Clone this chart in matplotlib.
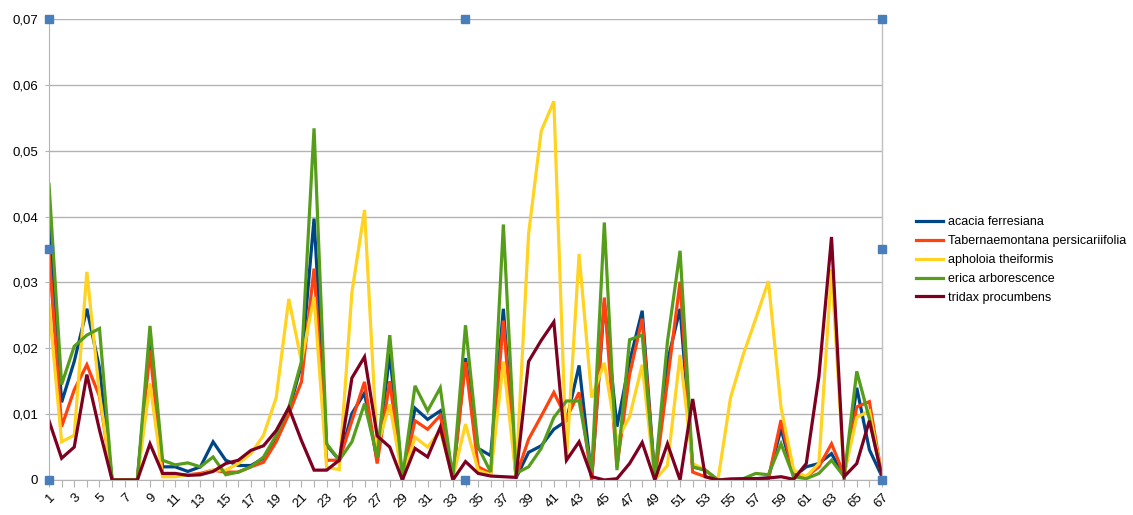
import matplotlib.pyplot as plt
from matplotlib.ticker import FuncFormatter

# x categories 1..67
categories = list(range(1, 68))

acacia = [0.040, 0.0118, 0.018, 0.026, 0.017, 0, 0, 0, 0.021, 0.002,
          0.002, 0.0013, 0.002, 0.0058, 0.003, 0.0022, 0.0022, 0.0033, 0.006, 0.0105,
          0.0175, 0.0397, 0.0053, 0.003, 0.0101, 0.0132, 0.003, 0.0192, 0.0, 0.0109,
          0.0092, 0.0105, 0.0003, 0.0185, 0.0048, 0.0037, 0.026, 0.0003, 0.0042, 0.0052,
          0.0077, 0.009, 0.0174, 0.0003, 0.027, 0.0081, 0.018, 0.0257, 0.0003, 0.018,
          0.026, 0.002, 0.0015, 0, 0, 0, 0.0002, 0.0003, 0.0078, 0.0005,
          0.002, 0.0025, 0.004, 0.0005, 0.014, 0.0046, 0.0005]

tabernaemontana = [0.0344, 0.0081, 0.0137, 0.0175, 0.0127, 0, 0, 0, 0.0197, 0.0008,
                   0.0008, 0.0008, 0.001, 0.0015, 0.0012, 0.0012, 0.002, 0.0027, 0.0058, 0.010,
                   0.0149, 0.0321, 0.003, 0.003, 0.009, 0.0149, 0.0025, 0.015, 0.0003, 0.009,
                   0.0077, 0.0098, 0.0003, 0.0179, 0.002, 0.001, 0.0242, 0.0005, 0.0062, 0.0097,
                   0.0133, 0.0094, 0.0133, 0.0, 0.0277, 0.002, 0.016, 0.0245, 0.0, 0.015,
                   0.0301, 0.0012, 0.0005, 0, 0, 0, 0, 0.0002, 0.0091, 0.0005,
                   0.0005, 0.002, 0.0055, 0.0008, 0.0111, 0.0119, 0.0005]

apholoia = [0.0266, 0.0058, 0.0068, 0.0316, 0.013, 0, 0, 0, 0.0147, 0.0005,
            0.0005, 0.0008, 0.0008, 0.0015, 0.0015, 0.0025, 0.004, 0.0068, 0.0125, 0.0275,
            0.018, 0.0278, 0.0019, 0.0016, 0.0285, 0.041, 0.005, 0.0115, 0.0003, 0.0065,
            0.005, 0.0075, 0.0003, 0.0085, 0.0015, 0.0008, 0.018, 0.0005, 0.0374, 0.053,
            0.0575, 0.003, 0.0343, 0.0125, 0.0178, 0.006, 0.0096, 0.0175, 0.0, 0.0022,
            0.019, 0.0025, 0.0015, 0, 0.0125, 0.019, 0.0245, 0.0302, 0.011, 0.0015,
            0.0005, 0.0025, 0.032, 0.0008, 0.0095, 0.0105, 0.0005]

erica = [0.0449, 0.0145, 0.0203, 0.022, 0.023, 0, 0, 0, 0.0234, 0.003,
         0.0023, 0.0026, 0.002, 0.0035, 0.0008, 0.0012, 0.002, 0.0035, 0.0068, 0.011,
         0.018, 0.0534, 0.0055, 0.003, 0.0058, 0.0116, 0.0035, 0.022, 0.0003, 0.0143,
         0.0105, 0.014, 0.0003, 0.0235, 0.005, 0.0012, 0.0388, 0.001, 0.002, 0.0048,
         0.0095, 0.012, 0.012, 0.0013, 0.0391, 0.0015, 0.0213, 0.022, 0.0005, 0.021,
         0.0348, 0.002, 0.0015, 0, 0.0002, 0.0002, 0.001, 0.0008, 0.0055, 0.0005,
         0.0002, 0.001, 0.003, 0.0005, 0.0165, 0.0093, 0.0005]

tridax = [0.009, 0.0033, 0.005, 0.016, 0.0076, 0, 0, 0, 0.0055, 0.001,
          0.001, 0.0007, 0.0008, 0.0013, 0.0025, 0.003, 0.0045, 0.0052, 0.0075, 0.011,
          0.006, 0.0015, 0.0015, 0.003, 0.0155, 0.0187, 0.0067, 0.005, 0, 0.0048,
          0.0035, 0.008, 0, 0.0028, 0.001, 0.0006, 0.0005, 0.0004, 0.018, 0.0212,
          0.024, 0.003, 0.0058, 0.0005, 0, 0.0002, 0.0025, 0.0057, 0, 0.0055,
          0, 0.0123, 0.0005, 0, 0.0001, 0.0002, 0.0002, 0.0003, 0.0005, 0.0001,
          0.0025, 0.0157, 0.0369, 0.0005, 0.0025, 0.009, 0.0005]

series_names = ["acacia ferresiana", "Tabernaemontana persicariifolia",
                "apholoia theiformis", "erica arborescence", "tridax procumbens"]
colors = ["#004586", "#ff420e", "#ffd320", "#579d1c", "#7e0021"]

plt.rcParams['font.family'] = ['Liberation Sans', 'DejaVu Sans']

fig = plt.figure(figsize=(11.33, 5.15), dpi=100)
ax = fig.add_axes([49 / 1133, 35 / 515, (882 - 49) / 1133, (480 - 19) / 515])

for vals, name, c in zip([acacia, tabernaemontana, apholoia, erica, tridax], series_names, colors):
    ax.plot(categories, vals, color=c, lw=2.3, label=name, solid_joinstyle='miter')

ax.set_xlim(1, 67)
ax.set_ylim(0, 0.07)
ax.set_yticks([i / 100 for i in range(8)])
ax.yaxis.set_major_formatter(FuncFormatter(lambda v, p: "0" if v == 0 else f"{v:.2f}".replace(".", ",")))
ax.set_xticks(categories)
ax.set_xticklabels([str(c) if c % 2 == 1 else "" for c in categories], rotation=45,
                   ha='right', va='top', rotation_mode='anchor')
ax.tick_params(axis='x', length=5, color='#b3b3b3', labelsize=9.5, pad=3)
ax.tick_params(axis='y', length=3, color='#b3b3b3', labelsize=9.5, pad=5)
ax.grid(axis='y', color='#b3b3b3', lw=1)
for s in ['top', 'right']:
    ax.spines[s].set_visible(False)
for s in ['left', 'bottom']:
    ax.spines[s].set_color('#b3b3b3')
ax.set_axisbelow(True)

ax.legend(loc='center left', bbox_to_anchor=(905 / 833 - 49 / 833, (480 - 260) / 461), frameon=False,
          fontsize=9, handlelength=2.1, handletextpad=0.4, labelspacing=0.55)

# selection frame and handles
fig.add_artist(plt.Line2D([882 / 1133, 882 / 1133], [35 / 515, 496 / 515], color='#c0c0c0', lw=1))
for hx, hy in [(49, 19), (465, 19), (882, 19), (49, 249), (882, 249), (49, 480), (465, 480), (882, 480)]:
    fig.add_artist(plt.Rectangle(((hx - 4) / 1133, (515 - hy - 4) / 515), 8 / 1133, 8 / 515,
                                 color='#4a7ebb', zorder=10))

fig.savefig("out.png", dpi=100)
